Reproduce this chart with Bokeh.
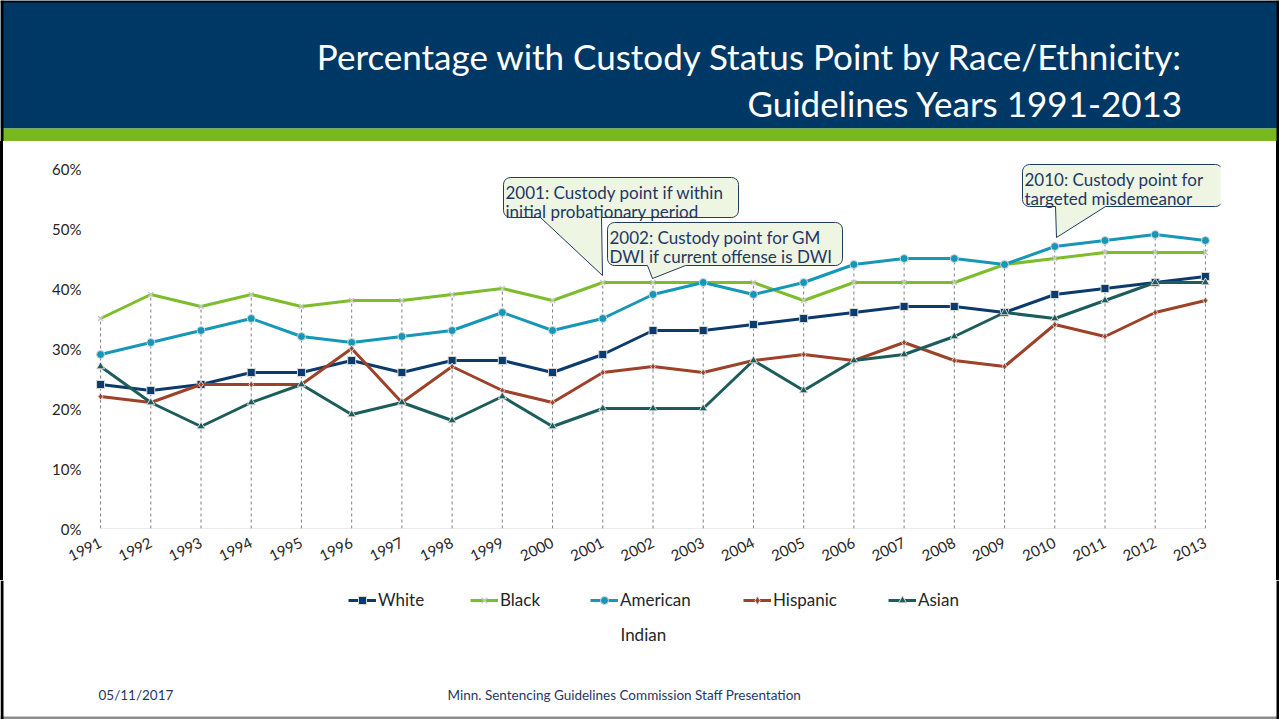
import numpy as np
from bokeh.plotting import figure
from bokeh.layouts import column, row
from bokeh.models import (Range1d, FixedTicker, PrintfTickFormatter, Label,
                          Legend, LegendItem)
from bokeh.core.properties import value
from bokeh.embed import file_html
from bokeh.resources import INLINE

# ---------------- data ----------------
years = list(range(1991, 2014))
white = [24, 23, 24, 26, 26, 28, 26, 28, 28, 26, 29, 33, 33, 34, 35, 36, 37, 37, 36, 39, 40, 41, 42]
black = [35, 39, 37, 39, 37, 38, 38, 39, 40, 38, 41, 41, 41, 41, 38, 41, 41, 41, 44, 45, 46, 46, 46]
american_indian = [29, 31, 33, 35, 32, 31, 32, 33, 36, 33, 35, 39, 41, 39, 41, 44, 45, 45, 44, 47, 48, 49, 48]
hispanic = [22, 21, 24, 24, 24, 30, 21, 27, 23, 21, 26, 27, 26, 28, 29, 28, 31, 28, 27, 34, 32, 36, 38]
asian = [27, 21, 17, 21, 24, 19, 21, 18, 22, 17, 20, 20, 20, 28, 23, 28, 29, 32, 36, 35, 38, 41, 41]
series_names = ["White", "Black", "American Indian", "Hispanic", "Asian"]
y_ticks = [0, 10, 20, 30, 40, 50, 60]

title_lines = ["Percentage with Custody Status Point by Race/Ethnicity:",
               "Guidelines Years 1991-2013"]
note_texts = [["2001: Custody point if within", "initial probationary period"],
              ["2002: Custody point for GM", "DWI if current offense is DWI"],
              ["2010: Custody point for", "targeted misdemeanor"]]
footer_date = "05/11/2017"
footer_text = "Minn. Sentencing Guidelines Commission Staff Presentation"

# ---------------- layout (page pixels) ----------------
W, H = 1279, 719
BW = 3                # black side border
HEAD_H = 141          # header figure: page 0..141
LEG_TOP = 580         # legend/footer figure: page 580..719
FL, FR, FT, FB = 85, 1220, 150, 528
XR = (1990.7, 2013.3)
YR = (0, 63)
PX_YR = (FR - FL) / (XR[1] - XR[0])
PX_PCT = (FB - FT) / (YR[1] - YR[0])


def sx(X):
    return X - FL


def sy(Y):
    return FB - Y


def dx(X):
    return XR[0] + (X - FL) / PX_YR


def dy(Y):
    return YR[0] + (FB - Y) / PX_PCT


colors = {"White": "#0b3b6d", "Black": "#7dbd2b", "American Indian": "#1697b7",
          "Hispanic": "#9d4129", "Asian": "#1c5d5b"}
markers = {"White": "square", "Black": "x", "American Indian": "circle",
           "Hispanic": "diamond", "Asian": "triangle"}
msize = {"White": 8, "Black": 7, "American Indian": 8, "Hispanic": 7, "Asian": 8}
values = {"White": white, "Black": black, "American Indian": american_indian,
          "Hispanic": hispanic, "Asian": asian}

FONT = "Lato"
NAVY = "#1f3864"
TXT = "#262626"


def add_series(fig, name, xs, ys):
    lr = fig.line(xs, ys, line_color=colors[name], line_width=3)
    if markers[name] == "x":
        sr = fig.scatter(xs, ys, marker="x", size=msize[name],
                         line_color="#c8c8c8", line_width=1.5)
    else:
        sr = fig.scatter(xs, ys, marker=markers[name], size=msize[name],
                         fill_color=colors[name], line_color="#d8d8d8", line_width=1)
    return [lr, sr]


# ---------------- header figure ----------------
ph = figure(width=W, height=HEAD_H, output_backend="svg", toolbar_location=None,
            x_range=Range1d(0, W), y_range=Range1d(HEAD_H, 0),
            x_axis_type=None, y_axis_type=None, min_border=0, frame_align=False)
ph.outline_line_color = None
ph.grid.visible = False
ph.quad(left=[0], right=[W], top=[0], bottom=[128], fill_color="#003865", line_color=None)
ph.quad(left=[0], right=[W], top=[128], bottom=[HEAD_H], fill_color="#78b920", line_color=None)
ph.quad(left=[0, W - BW, 0], right=[BW, W, W], top=[0, 0, 0], bottom=[HEAD_H, HEAD_H, 2],
        fill_color="black", line_color=None)
ph.text(x=[1183, 1183], y=[55, 102], text=title_lines, text_align="right",
        text_baseline="alphabetic", text_font=value(FONT), text_font_size="35px",
        text_color="white")

# ---------------- main chart figure ----------------
p = figure(width=W - 2 * BW, height=LEG_TOP - HEAD_H, output_backend="svg",
           toolbar_location=None, x_range=Range1d(*XR), y_range=Range1d(*YR),
           min_border_left=FL - BW, min_border_right=(W - BW) - FR,
           min_border_top=FT - HEAD_H, min_border_bottom=LEG_TOP - FB,
           frame_align=False, margin=(0, BW, 0, BW),
           styles={"background-color": "white"})
p.outline_line_color = None
p.grid.visible = False
p.background_fill_color = "white"
p.border_fill_color = "white"

p.xaxis.ticker = FixedTicker(ticks=years)
p.xaxis.formatter = PrintfTickFormatter(format="%d")
p.xaxis.major_label_orientation = 0.45
p.xaxis.axis_line_color = None
p.xaxis.major_tick_line_color = None
p.xaxis.minor_tick_line_color = None
p.xaxis.major_label_standoff = 7
p.xaxis.major_label_text_font = FONT
p.xaxis.major_label_text_font_size = "15px"
p.xaxis.major_label_text_color = TXT

p.yaxis.ticker = FixedTicker(ticks=y_ticks)
p.yaxis.formatter = PrintfTickFormatter(format="%d%%")
p.yaxis.axis_line_color = None
p.yaxis.major_tick_line_color = None
p.yaxis.minor_tick_line_color = None
p.yaxis.major_tick_out = 0
p.yaxis.major_label_standoff = 4
p.yaxis.major_label_text_font = FONT
p.yaxis.major_label_text_font_size = "15px"
p.yaxis.major_label_text_color = TXT

p.segment(x0=[years[0]], y0=[0], x1=[years[-1]], y1=[0], line_color="#d9d9d9", line_width=1)
tops = np.max(np.array([white, black, american_indian, hispanic, asian]), axis=0)
p.segment(x0=years, y0=[0] * len(years), x1=years, y1=tops,
          line_color="#7f7f7f", line_width=1, line_dash="3 3")

for name in series_names:
    add_series(p, name, years, values[name])

# callouts
note_boxes = [(503, 177, 738, 217), (607, 222, 842, 265), (1022, 164, 1222, 206)]
note_tails = [(540, 601, (602, 275)), (647, 685, (652, 278)), (1055, 1105, (1056, 237))]


def arc(cx, cy, r, a0, a1, n=6):
    t = np.linspace(a0, a1, n)
    return list(cx + r * np.cos(t)), list(cy + r * np.sin(t))


def callout(box, tail, r=7):
    L, T, R, B = box
    tl, tr, tip = tail
    xs, ys = [], []
    ax, ay = arc(L + r, T + r, r, np.pi, 1.5 * np.pi); xs += ax; ys += ay
    ax, ay = arc(R - r, T + r, r, 1.5 * np.pi, 2 * np.pi); xs += ax; ys += ay
    ax, ay = arc(R - r, B - r, r, 0, 0.5 * np.pi); xs += ax; ys += ay
    xs += [tr, tip[0], tl]; ys += [B, tip[1], B]
    ax, ay = arc(L + r, B - r, r, 0.5 * np.pi, np.pi); xs += ax; ys += ay
    return [dx(v) for v in xs], [dy(v) for v in ys]


for box, tail, lines in zip(note_boxes, note_tails, note_texts):
    cxs, cys = callout(box, tail)
    p.patch(cxs, cys, fill_color="#eef5e3", line_color="#1f3b5e", line_width=1)
    L, T, R, B = box
    for i, t in enumerate(lines):
        p.add_layout(Label(x=sx(L + 2), y=sy(T + 15 + i * 19), x_units="screen", y_units="screen",
                           text=t, text_font=FONT, text_font_size="17px",
                           text_color=NAVY, text_baseline="alphabetic"))

# ---------------- legend / footer figure ----------------
FH = H - LEG_TOP
pf = figure(width=W, height=FH, output_backend="svg", toolbar_location=None,
            x_range=Range1d(0, W), y_range=Range1d(H, LEG_TOP),
            x_axis_type=None, y_axis_type=None, min_border=0, frame_align=False)
pf.outline_line_color = None
pf.grid.visible = False

legend_x = {"White": 348, "Black": 470, "American Indian": 590, "Hispanic": 743, "Asian": 888}
legend_label = {"White": "White", "Black": "Black", "American Indian": "American",
                "Hispanic": "Hispanic", "Asian": "Asian"}
for name in series_names:
    # same series, lying outside this panel's visible range; used for the legend glyphs
    rs = add_series(pf, name, years, values[name])
    leg = Legend(items=[LegendItem(label=legend_label[name], renderers=rs)],
                 location=(legend_x[name], H - 610),
                 orientation="horizontal", padding=0, margin=0, spacing=0,
                 glyph_width=28, glyph_height=20, label_height=20, label_standoff=2,
                 label_text_font=FONT, label_text_font_size="17px",
                 label_text_color=TXT, border_line_color=None,
                 background_fill_alpha=0)
    pf.add_layout(leg)

pf.text(x=[620], y=[634], text=["Indian"], text_font=value(FONT), text_font_size="17px",
        text_color=TXT, text_baseline="alphabetic")
pf.text(x=[98, 447], y=[694, 694], text=[footer_date, footer_text],
        text_font=value(FONT), text_font_size="13.5px", text_color=NAVY,
        text_baseline="alphabetic")
pf.quad(left=[0], right=[W], top=[H - 3], bottom=[H], fill_color="#8c8c8c", line_color=None)
pf.quad(left=[0, W - BW], right=[BW, W], top=[LEG_TOP, LEG_TOP], bottom=[H, H],
        fill_color="black", line_color=None)

middle = row(p, spacing=0, styles={"background-color": "black"})
layout = column(ph, middle, pf, spacing=0, styles={"background-color": "white"})

open("out.html", "w").write(file_html(layout, INLINE))
